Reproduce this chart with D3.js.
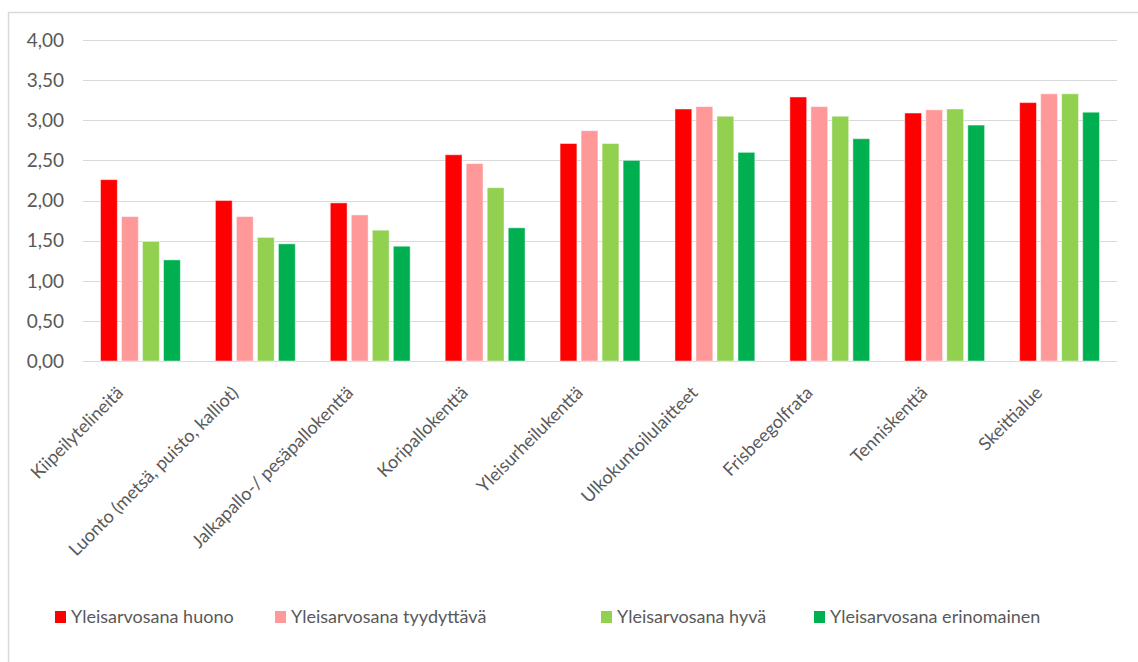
<!DOCTYPE html>
<meta charset="utf-8">
<style>
body, html {
  margin: 0;
  padding: 0;
  background: #fff;
}
text {
  font-family: Lato, "Open Sans", sans-serif;
  fill: #595959;
}
</style>
<div id="chart"></div>
<script src="https://d3js.org/d3.v7.min.js"></script>
<script>
const categories = ["Kiipeilytelineitä", "Luonto (metsä, puisto, kalliot)", "Jalkapallo-/ pesäpallokenttä",
  "Koripallokenttä", "Yleisurheilukenttä", "Ulkokuntoilulaitteet", "Frisbeegolfrata", "Tenniskenttä", "Skeittialue"]
const seriesNames = ["Yleisarvosana huono", "Yleisarvosana tyydyttävä", "Yleisarvosana hyvä", "Yleisarvosana erinomainen"]
const huono = [2.26, 2.00, 1.97, 2.57, 2.71, 3.14, 3.29, 3.09, 3.22]
const tyydyttava = [1.80, 1.80, 1.82, 2.46, 2.87, 3.17, 3.17, 3.13, 3.33]
const hyva = [1.49, 1.54, 1.63, 2.16, 2.71, 3.05, 3.05, 3.14, 3.33]
const erinomainen = [1.26, 1.46, 1.43, 1.66, 2.50, 2.60, 2.77, 2.94, 3.10]
const yTicks = [0, 0.5, 1, 1.5, 2, 2.5, 3, 3.5, 4]
const colors = ["#ff0000", "#ff9999", "#92d050", "#00b050"]

const series = [huono, tyydyttava, hyva, erinomainen]

const width = 1138
const height = 662
const margin = {left: 83, right: 21, top: 40, bottom: 301}

let svg = d3.select("#chart")
  .append("svg")
  .attr("width", width)
  .attr("height", height)

// outer frame (only left and top visible in the crop)
svg.append("path")
  .attr("d", "M8.5," + height + "V12.5H" + width)
  .attr("fill", "none")
  .attr("stroke", "#d9d9d9")
  .attr("stroke-width", 1.5)

let x0 = d3.scaleBand()
  .domain(categories)
  .range([margin.left, width - margin.right])
  .paddingInner(0.305)
  .paddingOuter(0.1525)

let x1 = d3.scaleBand()
  .domain(d3.range(series.length))
  .range([0, x0.bandwidth()])
  .paddingInner(0.2)

let y = d3.scaleLinear()
  .domain([0, 4])
  .range([height - margin.bottom, margin.top])

// grid
svg.append("g")
  .selectAll("line")
  .data(yTicks)
  .join("line")
  .attr("x1", margin.left)
  .attr("x2", width - margin.right)
  .attr("y1", d => Math.round(y(d)) + 0.5)
  .attr("y2", d => Math.round(y(d)) + 0.5)
  .attr("stroke", "#d9d9d9")
  .attr("stroke-width", 1.2)

svg.append("g")
  .selectAll("text")
  .data(yTicks)
  .join("text")
  .attr("x", 64)
  .attr("y", d => y(d))
  .attr("dy", "0.36em")
  .attr("text-anchor", "end")
  .style("font-size", "19px")
  .text(d => d.toFixed(2).replace(".", ","))

// bars
let groups = svg.append("g")
  .selectAll("g")
  .data(categories)
  .join("g")
  .attr("transform", d => "translate(" + x0(d) + ",0)")

groups.selectAll("rect")
  .data((d, i) => series.map((s, k) => ({k: k, v: s[i]})))
  .join("rect")
  .attr("x", d => x1(d.k))
  .attr("width", x1.bandwidth())
  .attr("y", d => y(d.v))
  .attr("height", d => y(0) - y(d.v))
  .attr("fill", d => colors[d.k])
  .attr("stroke", "rgba(255,255,255,0.45)")
  .attr("stroke-width", 1)

// category labels, rotated like excel does
svg.append("g")
  .selectAll("text")
  .data(categories)
  .join("text")
  .attr("text-anchor", "end")
  .attr("transform", d => "translate(" + (x0(d) + x0.bandwidth() / 2 - 16) + "," + (y(0) + 33) + ") rotate(-45)")
  .style("font-size", "18px")
  .text(d => d)

// legend
let legendX = [55, 275, 601, 814]
let legend = svg.append("g")
  .selectAll("g")
  .data(seriesNames)
  .join("g")
  .attr("transform", (d, i) => "translate(" + legendX[i] + ",617)")

legend.append("rect")
  .attr("x", 0)
  .attr("y", -6)
  .attr("width", 11)
  .attr("height", 12)
  .attr("fill", (d, i) => colors[i])

legend.append("text")
  .attr("x", 16)
  .attr("y", 6)
  .style("font-size", "18px")
  .text(d => d)
</script>
